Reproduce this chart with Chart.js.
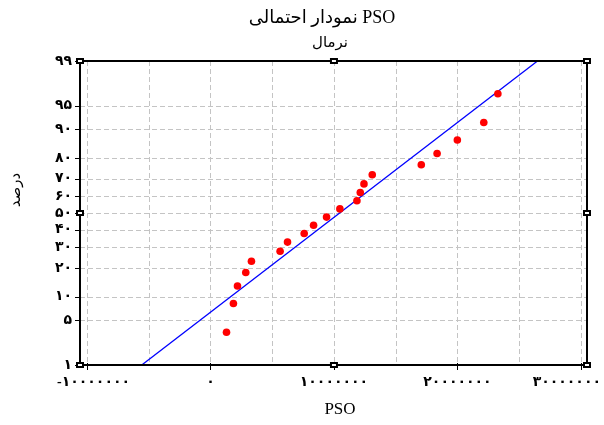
<!DOCTYPE html>
<html><head><meta charset="utf-8">
<script src="https://cdn.jsdelivr.net/npm/chart.js@4.4.0/dist/chart.umd.min.js"></script>
<style>html,body{margin:0;padding:0;background:#fff;}#wrap{width:604px;height:425px;}</style>
</head><body><div id="wrap"><canvas id="c" width="604" height="425"></canvas></div>
<script>
const titleText = 'نمودار احتمالی PSO';
const subtitleText = 'نرمال';
const xAxisTitle = 'PSO';
const yAxisTitle = 'درصد';
const psoValues = [1300000, 1860000, 2190000, 2860000, 3320000, 5640000, 6240000, 7590000, 8350000, 9400000, 10480000, 11860000, 12130000, 12430000, 13100000, 17070000, 18350000, 19990000, 22130000, 23270000];
const percentValues = [3.4, 8.3, 13.2, 18.1, 23.0, 27.9, 32.8, 37.7, 42.6, 47.5, 52.5, 57.4, 62.3, 67.2, 72.1, 77.0, 81.9, 86.8, 91.7, 96.6];
const fitLineX = [-5560000, 26480000];
const fitLineP = [1, 99];
const yTickPercents = [1, 5, 10, 20, 30, 40, 50, 60, 70, 80, 90, 95, 99];
const yTickLabels = ['۱','۵','۱۰','۲۰','۳۰','۴۰','۵۰','۶۰','۷۰','۸۰','۹۰','۹۵','۹۹'];
const xTickValues = [-10000000, 0, 10000000, 20000000, 30000000];
const xTickLabels = ['-۱۰۰۰۰۰۰۰','۰','۱۰۰۰۰۰۰۰','۲۰۰۰۰۰۰۰','۳۰۰۰۰۰۰۰'];
const xGridValues = [-10000000, -5000000, 0, 5000000, 10000000, 15000000, 20000000, 25000000, 30000000];
const xRange = [-10560000, 30486000];
const pRange = [1, 99];
const xMarkerValues = [10000000];
const pMarkerValues = [50];

function probit(p){
  const a=[-3.969683028665376e+01,2.209460984245205e+02,-2.759285104469687e+02,1.383577518672690e+02,-3.066479806614716e+01,2.506628277459239e+00];
  const b=[-5.447609879822406e+01,1.615858368580409e+02,-1.556989798598866e+02,6.680131188771972e+01,-1.328068155288572e+01];
  const c=[-7.784894002430293e-03,-3.223964580411365e-01,-2.400758277161838e+00,-2.549732539343734e+00,4.374664141464968e+00,2.938163982698783e+00];
  const d=[7.784695709041462e-03,3.224671290700398e-01,2.445134137142996e+00,3.754408661907416e+00];
  const pl=0.02425, ph=1-pl; let q,r;
  if(p<pl){q=Math.sqrt(-2*Math.log(p));return (((((c[0]*q+c[1])*q+c[2])*q+c[3])*q+c[4])*q+c[5])/((((d[0]*q+d[1])*q+d[2])*q+d[3])*q+1);}
  if(p<=ph){q=p-0.5;r=q*q;return (((((a[0]*r+a[1])*r+a[2])*r+a[3])*r+a[4])*r+a[5])*q/(((((b[0]*r+b[1])*r+b[2])*r+b[3])*r+b[4])*r+1);}
  q=Math.sqrt(-2*Math.log(1-p));return -(((((c[0]*q+c[1])*q+c[2])*q+c[3])*q+c[4])*q+c[5])/((((d[0]*q+d[1])*q+d[2])*q+d[3])*q+1);
}
const z = p => probit(p/100);
const FONT = '"Liberation Serif","DejaVu Sans",serif';

const framePlugin = {
  id:'frame',
  beforeDraw(chart){
    const xs = chart.scales.x;
    try{
      const items = xs.getLabelItems(chart.chartArea);
      const last = items[items.length-1];
      if(last && last.options){
        last.options.textAlign = 'right';
        last.options.translation[0] = chart.width - 3;
      }
      const first = items[0];
      if(first && first.options){
        first.options.textAlign = 'left';
        first.options.translation[0] = chart.chartArea.left - 23;
      }
    }catch(e){}
  },
  beforeDatasetsDraw(chart){
    const {ctx, chartArea:a, scales:{x,y}} = chart;
    ctx.save();
    ctx.strokeStyle = '#c4c4c4';
    ctx.lineWidth = 1;
    ctx.setLineDash([5,3]);
    xGridValues.forEach(v=>{
      const px = Math.round(x.getPixelForValue(v))+0.5;
      ctx.beginPath(); ctx.moveTo(px,a.top); ctx.lineTo(px,a.bottom); ctx.stroke();
    });
    yTickPercents.forEach(p=>{
      const py = Math.round(y.getPixelForValue(z(p)))+0.5;
      ctx.beginPath(); ctx.moveTo(a.left,py); ctx.lineTo(a.right,py); ctx.stroke();
    });
    ctx.restore();
  },
  afterDatasetsDraw(chart){
    const {ctx, chartArea:a, scales:{x,y}} = chart;
    ctx.save();
    ctx.strokeStyle = '#000';
    ctx.lineWidth = 2;
    ctx.strokeRect(a.left, a.top, a.right-a.left, a.bottom-a.top);
    ctx.lineWidth = 1;
    yTickPercents.forEach(p=>{
      const py = Math.round(y.getPixelForValue(z(p)))+0.5;
      ctx.beginPath(); ctx.moveTo(a.left-5,py); ctx.lineTo(a.left,py); ctx.stroke();
    });
    xTickValues.forEach(v=>{
      const px = Math.round(x.getPixelForValue(v))+0.5;
      ctx.beginPath(); ctx.moveTo(px,a.bottom-2); ctx.lineTo(px,a.bottom+5); ctx.stroke();
    });
    const sq = (cx,cy)=>{
      ctx.fillStyle='#000'; ctx.fillRect(cx-4,cy-3,8,6);
      ctx.fillStyle='#fff'; ctx.fillRect(cx-2,cy-1,4,2);
    };
    const xs = [x.getPixelForValue(xRange[0]), ...xMarkerValues.map(v=>x.getPixelForValue(v)), x.getPixelForValue(xRange[1])];
    const ys = [y.getPixelForValue(z(pRange[1])), ...pMarkerValues.map(p=>y.getPixelForValue(z(p))), y.getPixelForValue(z(pRange[0]))];
    xs.forEach(px=>{ sq(px, ys[0]); sq(px, ys[ys.length-1]); });
    ys.forEach(py=>{ sq(xs[0], py); sq(xs[xs.length-1], py); });
    ctx.restore();
    ctx.save();
    ctx.fillStyle='#000';
    ctx.textAlign='center';
    ctx.textBaseline='middle';
    ctx.direction='ltr';
    ctx.font = '18px '+FONT;
    ctx.fillText(titleText, 322, 18);
    ctx.font = '15px '+FONT;
    ctx.fillText(subtitleText, 330, 43);
    ctx.font = '17px '+FONT;
    ctx.fillText(xAxisTitle, 340, 410);
    ctx.translate(16, 190);
    ctx.rotate(-Math.PI/2);
    ctx.font = '15px '+FONT;
    ctx.fillText(yAxisTitle, 0, 0);
    ctx.restore();
  }
};

new Chart(document.getElementById('c').getContext('2d'), {
  type:'scatter',
  data:{datasets:[
    {label:'fit', data: fitLineX.map((v,i)=>({x:v, y:z(fitLineP[i])})), showLine:true, borderColor:'#0000ff', borderWidth:1.3, pointRadius:0, order:1},
    {label:'data', data: psoValues.map((v,i)=>({x:v, y:z(percentValues[i])})), backgroundColor:'#ff0000', borderWidth:0, pointRadius:3.8, order:0}
  ]},
  options:{
    responsive:false, animation:false, devicePixelRatio:1,
    layout:{padding:{left:0,right:17,top:61,bottom:0}},
    plugins:{legend:{display:false}, tooltip:{enabled:false}, title:{display:false}},
    scales:{
      x:{type:'linear', min:xRange[0], max:xRange[1],
        grid:{display:false, drawTicks:false}, border:{display:false},
        afterBuildTicks: s=>{ s.ticks = xTickValues.map(v=>({value:v})); },
        ticks:{autoSkip:false, maxRotation:0, minRotation:0, padding:9, color:'#000', font:{family:FONT, size:14, weight:'bold'},
          callback:(v,i)=>xTickLabels[i]},
        afterFit: s=>{ s.height=60; s.paddingLeft=0; s.paddingRight=0; }
      },
      y:{type:'linear', min:z(pRange[0]), max:z(pRange[1]),
        grid:{display:false, drawTicks:false}, border:{display:false},
        afterBuildTicks: s=>{ s.ticks = yTickPercents.map(p=>({value:z(p)})); },
        ticks:{autoSkip:false, padding:8, color:'#000', font:{family:FONT, size:14, weight:'bold'},
          callback:(v,i)=>yTickLabels[i]},
        afterFit: s=>{ s.width=80; s.paddingTop=0; s.paddingBottom=0; }
      }
    }
  },
  plugins:[framePlugin]
});
</script></body></html>
